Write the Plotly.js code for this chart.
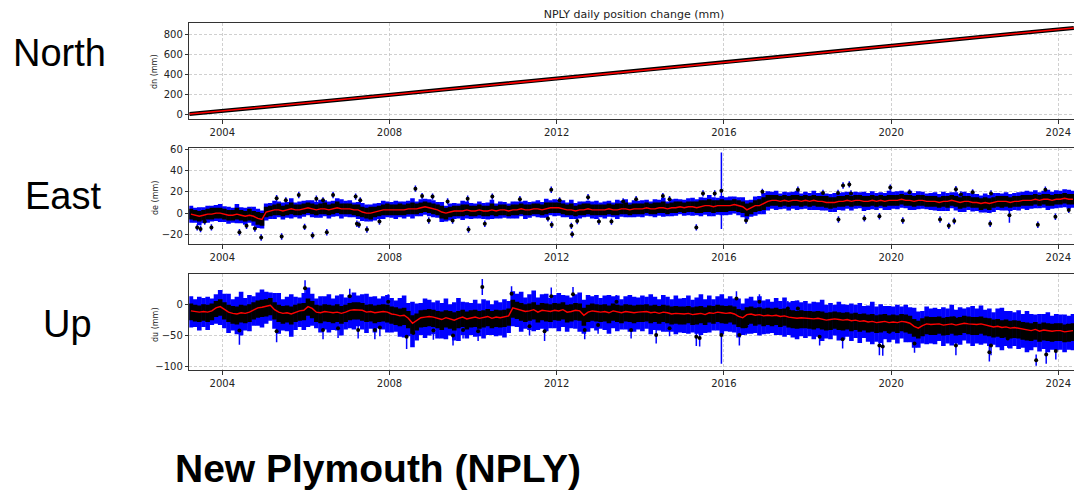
<!DOCTYPE html>
<html>
<head>
<meta charset="utf-8">
<script src="https://cdn.plot.ly/plotly-3.0.1.min.js"></script>
<style>
  html, body { margin: 0; padding: 0; background: #fff; }
  #chart { width: 1074px; height: 494px; }
</style>
</head>
<body>
<div id="chart"></div>
<script>
// ---------------- data (mm) ----------------
// North: near-linear motion, sampled yearly
const northT = [2003.21, 2004, 2005, 2006, 2007, 2008, 2009, 2010, 2011, 2012, 2013, 2014,
                2015, 2016, 2017, 2018, 2019, 2020, 2021, 2022, 2023, 2024, 2024.37];
const northV = [2, 36, 74, 113, 153, 194, 234, 274, 315, 355, 395, 436,
                477, 518, 559, 600, 642, 686, 727, 768, 809, 850, 864];

// East and Up are summarised in 0.1-year bins starting at 2003.25:
// running mean (red), upper/lower edge of the daily solutions in the bin,
// and the largest 1-sigma in the bin.
const binStart = 2003.25, binStep = 0.1;

const eastMid = [
  /*2003*/ -1,-2,-3,-2,-1,-1,0,0,
  /*2004*/ -1,-2,-2,-1,-2,-3,-2,-3,-5,-6,
  /*2005*/ 1,2,3,3,2,3,4,3,3,4,
  /*2006*/ 5,4,3,4,4,3,4,5,4,4,
  /*2007*/ 4,3,3,1,0,0,1,2,3,3,
  /*2008*/ 3,3,3,3,4,4,4,5,6,5,
  /*2009*/ 4,3,1,0,1,2,2,2,3,2,
  /*2010*/ 2,3,2,2,3,2,3,3,2,3,
  /*2011*/ 3,4,3,3,4,4,3,4,5,5,
  /*2012*/ 5,4,3,3,2,3,3,4,3,3,
  /*2013*/ 3,3,4,3,3,4,4,3,4,4,
  /*2014*/ 4,5,4,4,5,5,4,5,5,6,
  /*2015*/ 5,6,6,5,6,7,7,6,7,7,
  /*2016*/ 7,7,8,7,6,3,5,7,7,9,
  /*2017*/ 11,12,12,11,12,11,12,12,11,12,
  /*2018*/ 11,12,11,11,10,10,10,11,11,12,
  /*2019*/ 11,12,12,11,11,12,11,12,11,12,
  /*2020*/ 12,12,13,12,12,11,12,12,11,11,
  /*2021*/ 11,10,11,11,12,11,10,11,11,10,
  /*2022*/ 10,9,10,9,10,11,11,11,10,11,
  /*2023*/ 11,12,12,12,13,12,13,13,12,13,
  /*2024*/ 13,14,13,13
];
const eastHi = [
  /*2003*/ 4,3,2,3,4,5,5,5,
  /*2004*/ 4,3,3,5,3,2,4,2,1,0,
  /*2005*/ 6,7,8,9,7,8,10,8,8,9,
  /*2006*/ 10,9,8,9,10,8,9,11,9,9,
  /*2007*/ 9,8,8,6,5,6,6,7,8,9,
  /*2008*/ 8,8,9,8,9,10,9,10,11,10,
  /*2009*/ 9,8,7,5,6,7,7,8,8,7,
  /*2010*/ 7,8,7,7,9,7,8,8,7,8,
  /*2011*/ 8,9,8,8,9,9,8,10,10,10,
  /*2012*/ 10,9,8,9,7,8,9,9,8,8,
  /*2013*/ 8,8,9,8,9,9,10,8,9,9,
  /*2014*/ 9,10,9,10,10,11,9,10,11,11,
  /*2015*/ 10,11,11,11,12,12,13,12,12,13,
  /*2016*/ 12,12,13,12,11,9,10,12,13,15,
  /*2017*/ 17,17,17,16,17,16,17,17,16,17,
  /*2018*/ 16,17,16,16,16,15,15,16,16,17,
  /*2019*/ 16,17,17,16,16,17,16,17,16,17,
  /*2020*/ 17,17,18,17,17,16,17,17,16,16,
  /*2021*/ 16,15,16,16,17,16,15,16,16,15,
  /*2022*/ 15,14,15,14,15,16,16,16,15,16,
  /*2023*/ 16,17,17,17,18,17,18,18,17,18,
  /*2024*/ 18,19,18,18
];
const eastLo = [
  /*2003*/ -6,-7,-8,-7,-6,-6,-5,-5,
  /*2004*/ -6,-7,-7,-6,-7,-8,-7,-8,-11,-12,
  /*2005*/ -4,-3,-2,-2,-3,-2,-1,-2,-2,-1,
  /*2006*/ 0,-1,-2,-1,-1,-2,-1,0,-1,-1,
  /*2007*/ -1,-2,-3,-4,-5,-6,-4,-3,-2,-2,
  /*2008*/ -2,-2,-2,-2,-1,-1,-1,0,1,0,
  /*2009*/ -1,-2,-5,-6,-4,-3,-3,-3,-2,-3,
  /*2010*/ -3,-2,-3,-3,-2,-3,-2,-2,-3,-2,
  /*2011*/ -2,-1,-2,-2,-1,-1,-2,-1,0,0,
  /*2012*/ 0,-1,-2,-2,-3,-2,-2,-1,-2,-2,
  /*2013*/ -2,-2,-1,-2,-2,-1,-1,-2,-1,-1,
  /*2014*/ -1,0,-1,-1,0,0,-1,0,0,1,
  /*2015*/ 0,1,1,0,0,1,1,0,1,1,
  /*2016*/ 1,2,2,1,0,-3,-1,1,2,3,
  /*2017*/ 6,7,7,6,7,6,7,7,6,7,
  /*2018*/ 6,7,6,6,5,4,5,6,6,7,
  /*2019*/ 6,7,7,6,6,7,6,7,6,7,
  /*2020*/ 7,7,8,7,7,6,7,7,6,6,
  /*2021*/ 6,5,6,5,7,6,4,5,6,5,
  /*2022*/ 5,3,4,3,5,6,5,6,5,6,
  /*2023*/ 6,7,7,7,8,7,8,7,7,8,
  /*2024*/ 8,9,8,8
];
const eastSigma = [
  /*2003*/ 3,2,3.5,2.5,3,2,2.5,3.5,
  /*2004*/ 2.5,3,2,3.5,2.5,3,2,4,3,2.5,
  /*2005*/ 3,2.5,3.5,2,3,2.5,4,2,3,2.5,
  /*2006*/ 2,3,2.5,3.5,2,3,2.5,3,4,2.5,
  /*2007*/ 3,2,2.5,3.5,3,2,3,2.5,3.5,2,
  /*2008*/ 2.5,3.5,2,3,2.5,4,2,3,2.5,3,
  /*2009*/ 3,2.5,3.5,2,3,2.5,2,3.5,3,2.5,
  /*2010*/ 2,3,2.5,3,3.5,2,3,2.5,2,3,
  /*2011*/ 3,2,3.5,2.5,2,3,2.5,3.5,2,3,
  /*2012*/ 2.5,3,2,3.5,2.5,3,2,2.5,3,3.5,
  /*2013*/ 2,3,2.5,2,3.5,2.5,3,2,3,2.5,
  /*2014*/ 3,2.5,2,3,2.5,3.5,2,3,2.5,2,
  /*2015*/ 2.5,3,3.5,2,3,2.5,4,3,2.5,3,
  /*2016*/ 3,3.5,2.5,3,4,3,2.5,3.5,3,4,
  /*2017*/ 3.5,3,4,2.5,3,3.5,3,4,2.5,3,
  /*2018*/ 3,4,3,3.5,2.5,3,4,3,3.5,3,
  /*2019*/ 3.5,3,2.5,4,3,3.5,3,2.5,3,4,
  /*2020*/ 3,3.5,3,2.5,4,3,3.5,3,2.5,3,
  /*2021*/ 3.5,3,4,3,2.5,3.5,3,4,3,3.5,
  /*2022*/ 3,2.5,3.5,3,4,3,2.5,3.5,3,3,
  /*2023*/ 3.5,3,4,3,3.5,2.5,3,4,3,3.5,
  /*2024*/ 3,3.5,4,3
];

// isolated East solutions away from the main cloud
const eastOutT = [2003.40,2003.48,2003.58,2003.74,2004.41,2004.58,2004.78,2004.93,2005.30,2005.42,
  2005.52,2005.83,2005.97,2006.16,2006.25,2006.41,2006.50,2006.65,2007.19,2007.22,2007.27,2007.30,
  2007.46,2007.76,2008.62,2008.78,2008.94,2009.03,2009.39,2009.51,2009.87,2009.89,2010.28,2010.46,
  2011.12,2011.79,2011.87,2011.88,2012.07,2012.35,2012.37,2012.49,2012.75,2013.01,2013.31,2013.59,
  2013.90,2014.54,2014.70,2015.34,2015.50,2015.78,2015.94,2016.53,2016.92,2017.77,2018.37,2018.73,
  2018.74,2018.85,2019.00,2019.04,2019.36,2019.72,2019.98,2020.28,2020.44,2021.17,2021.38,2021.51,
  2021.55,2021.67,2021.95,2022.37,2022.39,2022.83,2023.51,2023.69,2023.93,2024.25];
const eastOutV = [-13.5,-15,-8,-13.5,-18,-12,-14.5,-23,14,-22,
  12,17,-13,-21,13.5,12,-18,17,15.5,-10,-11,12,
  -15.5,-8,23,16,-7,15.5,11,-7,13.5,-15.5,-10,15.5,
  13,-5,22,-11,12,-12,-20,-7.5,15,-8,-8,11,
  13,16,13,-13.5,18.5,18.5,21,-7,20,22,19,19,
  -6,26,27,18.5,-5,-3,24,-7,19.5,-6,-12,-7.5,
  22.5,17.5,19.5,-10,18.5,-2,-11,22,-3.5,3];
const eastOutE = [3,3,3,3,3,3,3,3,3,3,
  3,3,3,3,3,3,3,3,3,3,3,3,
  3,3,3,3,3,3,3,3,3,3,3,3,
  3,3,3,3,3,3,3,3,3,3,3,3,
  3,3,3,3,3,3,36,3,3,3,3,3,
  3,3,3,3,3,3,3,3,3,3,3,3,
  3,3,3,3,3,7,3,3,3,3];

const upMid = [
  /*2003*/ -10,-11,-12,-11,-12,-10,-5,-3,
  /*2004*/ -8,-12,-14,-15,-13,-14,-12,-8,-5,-4,
  /*2005*/ -3,-1,-8,-12,-14,-13,-15,-12,-10,-9,
  /*2006*/ -3,-6,-12,-13,-11,-12,-13,-12,-14,-12,
  /*2007*/ -9,-8,-8,-9,-12,-11,-13,-12,-11,-12,
  /*2008*/ -15,-16,-18,-17,-22,-30,-26,-21,-20,-19,
  /*2009*/ -20,-22,-24,-21,-23,-25,-22,-20,-23,-21,
  /*2010*/ -20,-22,-21,-19,-22,-20,-21,-20,-18,-5,
  /*2011*/ -7,-9,-11,-10,-8,-12,-9,-10,-11,-9,
  /*2012*/ -10,-8,-12,-11,-9,-10,-17,-12,-10,-11,
  /*2013*/ -12,-11,-13,-10,-12,-13,-11,-12,-13,-12,
  /*2014*/ -12,-11,-13,-12,-14,-12,-13,-15,-14,-15,
  /*2015*/ -15,-14,-16,-15,-14,-16,-13,-14,-12,-13,
  /*2016*/ -14,-13,-15,-19,-21,-16,-15,-17,-16,-18,
  /*2017*/ -17,-18,-17,-19,-18,-20,-21,-22,-21,-22,
  /*2018*/ -22,-23,-22,-23,-25,-24,-23,-24,-25,-24,
  /*2019*/ -26,-25,-27,-26,-28,-27,-29,-28,-27,-29,
  /*2020*/ -28,-29,-27,-28,-30,-35,-38,-34,-31,-32,
  /*2021*/ -32,-31,-33,-32,-31,-33,-32,-30,-31,-32,
  /*2022*/ -32,-31,-33,-34,-36,-35,-37,-36,-38,-37,
  /*2023*/ -38,-40,-41,-42,-40,-43,-41,-42,-43,-42,
  /*2024*/ -42,-44,-43,-42
];
const upHi = [
  /*2003*/ 2,0,-1,1,0,2,6,9,
  /*2004*/ 4,0,-2,-3,0,-1,1,4,7,8,
  /*2005*/ 9,11,4,0,-2,-1,-3,0,2,3,
  /*2006*/ 10,6,0,-1,1,0,-1,1,-2,0,
  /*2007*/ 3,4,4,3,0,1,-1,0,1,0,
  /*2008*/ -3,-4,-6,-5,-10,-17,-14,-9,-8,-7,
  /*2009*/ -8,-10,-11,-9,-10,-12,-10,-8,-11,-9,
  /*2010*/ -8,-10,-9,-7,-10,-8,-9,-8,-6,8,
  /*2011*/ 5,3,1,2,4,0,3,2,1,3,
  /*2012*/ 2,4,0,1,3,2,-5,0,2,1,
  /*2013*/ 0,1,-1,2,0,-1,1,0,-1,0,
  /*2014*/ 0,1,-1,0,-2,0,-1,-3,-2,-3,
  /*2015*/ -3,-2,-4,-3,-2,-4,-1,-2,0,-1,
  /*2016*/ -2,-1,-3,-7,-9,-4,-3,-5,-4,-6,
  /*2017*/ -5,-6,-5,-7,-6,-8,-9,-10,-9,-10,
  /*2018*/ -10,-11,-10,-11,-13,-12,-11,-12,-13,-12,
  /*2019*/ -14,-13,-15,-14,-16,-15,-17,-16,-15,-17,
  /*2020*/ -16,-17,-15,-16,-18,-23,-26,-22,-19,-20,
  /*2021*/ -20,-19,-21,-20,-19,-21,-20,-18,-19,-20,
  /*2022*/ -20,-19,-21,-22,-24,-23,-25,-24,-26,-25,
  /*2023*/ -26,-28,-29,-30,-28,-31,-29,-30,-31,-30,
  /*2024*/ -30,-32,-31,-30
];
const upLo = [
  /*2003*/ -25,-27,-28,-26,-28,-25,-20,-18,
  /*2004*/ -24,-28,-31,-32,-29,-30,-28,-24,-21,-20,
  /*2005*/ -19,-17,-24,-28,-31,-29,-32,-28,-26,-25,
  /*2006*/ -18,-22,-28,-30,-27,-28,-30,-28,-31,-28,
  /*2007*/ -25,-24,-24,-26,-28,-27,-30,-28,-27,-29,
  /*2008*/ -31,-33,-35,-33,-38,-47,-42,-37,-36,-35,
  /*2009*/ -36,-38,-41,-37,-39,-42,-38,-36,-40,-37,
  /*2010*/ -36,-39,-37,-35,-38,-36,-37,-36,-34,-21,
  /*2011*/ -23,-26,-28,-26,-24,-29,-25,-27,-28,-25,
  /*2012*/ -26,-24,-29,-27,-25,-26,-34,-28,-26,-27,
  /*2013*/ -28,-27,-30,-26,-28,-30,-27,-28,-30,-28,
  /*2014*/ -28,-27,-30,-28,-31,-28,-30,-32,-31,-32,
  /*2015*/ -32,-30,-33,-32,-30,-33,-29,-31,-28,-30,
  /*2016*/ -31,-29,-32,-36,-38,-33,-31,-34,-32,-35,
  /*2017*/ -33,-35,-33,-36,-34,-37,-38,-39,-38,-38,
  /*2018*/ -39,-40,-38,-40,-42,-41,-39,-41,-42,-40,
  /*2019*/ -43,-41,-44,-42,-45,-44,-46,-45,-43,-46,
  /*2020*/ -44,-46,-43,-45,-47,-52,-55,-51,-48,-49,
  /*2021*/ -49,-47,-50,-49,-47,-50,-49,-46,-48,-49,
  /*2022*/ -49,-47,-50,-51,-53,-52,-54,-53,-55,-54,
  /*2023*/ -55,-57,-58,-59,-57,-60,-58,-59,-60,-59,
  /*2024*/ -59,-61,-60,-59
];
const upSigma = [
  /*2003*/ 12,9,14,10,13,8,11,15,
  /*2004*/ 14,18,11,16,21,12,15,10,13,17,
  /*2005*/ 12,9,15,19,11,14,20,13,10,16,
  /*2006*/ 18,12,10,15,13,17,11,14,19,12,
  /*2007*/ 13,16,11,14,18,12,15,10,13,16,
  /*2008*/ 14,11,17,20,13,22,16,12,18,15,
  /*2009*/ 12,17,14,19,11,16,21,13,15,12,
  /*2010*/ 16,12,18,14,11,15,13,17,12,14,
  /*2011*/ 13,18,11,15,19,12,14,16,10,13,
  /*2012*/ 17,12,15,11,14,18,13,16,12,15,
  /*2013*/ 11,14,17,12,15,10,13,16,14,12,
  /*2014*/ 15,12,18,13,11,16,14,12,17,13,
  /*2015*/ 14,17,12,15,19,13,16,11,14,18,
  /*2016*/ 12,15,13,17,11,14,16,12,18,13,
  /*2017*/ 14,11,16,13,18,12,15,17,13,16,
  /*2018*/ 12,16,14,19,13,15,11,17,14,12,
  /*2019*/ 16,13,18,12,15,20,14,17,13,15,
  /*2020*/ 13,17,12,16,14,18,15,12,16,14,
  /*2021*/ 15,12,17,14,19,13,16,12,15,18,
  /*2022*/ 14,18,13,16,12,17,20,14,16,13,
  /*2023*/ 17,13,19,15,12,16,14,18,13,15,
  /*2024*/ 14,16,13,15
];

// isolated Up solutions away from the main cloud
const upOutT = [2004.41,2005.30,2005.98,2006.41,2006.77,2007.05,2007.25,2007.65,2007.77,2007.97,
  2008.41,2008.57,2009.05,2009.52,2009.76,2010.12,2010.22,2010.92,2011.35,2011.71,2011.87,2012.39,
  2012.67,2012.99,2013.43,2013.78,2014.38,2014.70,2015.34,2015.42,2015.94,2016.30,2016.37,2016.53,
  2016.85,2017.53,2017.77,2018.29,2018.84,2019.72,2019.80,2019.96,2020.56,2021.51,2021.55,2022.35,
  2022.39,2022.79,2023.19,2023.47,2023.71,2023.94,2024.22];
const upOutV = [-42,-43,27,-41,-38,14,-41,-41,-37,5,
  -52,-46,-42,-50,-41,-43,29,18,-35,-43,14,17,
  -41,-33,5,-41,-49,-38,-52,-54,-49,10,-49,-35,
  5,-6,-6,-52,-56,-66,-68,-44,-63,-22,-66,-77,
  -66,-55,-39,-90,-81,-75,-34];
const upOutE = [23,18,13,15,16,12,14,15,14,12,
  20,18,15,16,14,16,13,12,15,16,14,12,
  15,14,11,14,14,13,15,14,47,12,17,14,
  12,12,13,14,15,16,15,14,15,14,16,15,
  16,15,14,9,15,14,14];

const yearTicks = [2004, 2008, 2012, 2016, 2020, 2024];

// ---------------- traces ----------------
const BLUE = '#0000ff', BLACK = '#000000', RED = '#ff0000';

function binTimes(n) {
  const t = [];
  for (let i = 0; i < n; i++) t.push(Math.round((binStart + binStep * i) * 100) / 100);
  return t;
}

// one subplot of binned daily solutions: sigma fringe, solution cloud, outliers, running mean
function componentTraces(mid, hi, lo, sigma, outT, outV, outE, xa, ya) {
  const t = binTimes(mid.length);
  const base = { type: 'scatter', mode: 'markers', x: t, y: mid, xaxis: xa, yaxis: ya,
                 hoverinfo: 'skip', showlegend: false };
  return [
    Object.assign({}, base, {
      marker: { size: 1, color: BLUE },
      error_y: { type: 'data', symmetric: false,
                 array: hi.map((h, i) => h - mid[i] + sigma[i]),
                 arrayminus: lo.map((l, i) => mid[i] - l + sigma[i]),
                 color: BLUE, thickness: 4.6, width: 0 }
    }),
    { type: 'scatter', mode: 'markers', x: outT, y: outV, xaxis: xa, yaxis: ya,
      hoverinfo: 'skip', showlegend: false,
      marker: { size: 4, color: BLACK },
      error_y: { type: 'data', array: outE, color: BLUE, thickness: 1.5, width: 0 } },
    Object.assign({}, base, {
      marker: { size: 1, color: BLACK },
      error_y: { type: 'data', symmetric: false,
                 array: hi.map((h, i) => h - mid[i]),
                 arrayminus: lo.map((l, i) => mid[i] - l),
                 color: BLACK, thickness: 4.6, width: 0 }
    }),
    { type: 'scatter', mode: 'lines', x: t, y: mid, xaxis: xa, yaxis: ya,
      hoverinfo: 'skip', showlegend: false,
      line: { color: RED, width: 1.4 } }
  ];
}

const traces = [
  { type: 'scatter', mode: 'lines', x: northT, y: northV, xaxis: 'x', yaxis: 'y',
    showlegend: false, hoverinfo: 'skip', line: { color: BLACK, width: 4 } },
  { type: 'scatter', mode: 'lines', x: northT, y: northV, xaxis: 'x', yaxis: 'y',
    showlegend: false, hoverinfo: 'skip', line: { color: RED, width: 1.5 } }
].concat(
  componentTraces(eastMid, eastHi, eastLo, eastSigma, eastOutT, eastOutV, eastOutE, 'x2', 'y2'),
  componentTraces(upMid, upHi, upLo, upSigma, upOutT, upOutV, upOutE, 'x3', 'y3')
);

// ---------------- layout ----------------
const W = 1074, H = 494;
const px = v => v / W;
const py = v => 1 - v / H;

const tickFont = { family: 'DejaVu Sans, sans-serif', size: 10, color: '#222' };

function xAxis(anchor) {
  return {
    domain: [px(189.3), 1], range: [2003.211, 2024.375], anchor: anchor,
    tickmode: 'array', tickvals: yearTicks, ticktext: yearTicks.map(String),
    ticks: 'outside', ticklen: 3.5, tickwidth: 1, tickcolor: '#333',
    showline: true, linecolor: '#333', linewidth: 1, mirror: true,
    showgrid: true, gridcolor: '#c4c4c4', gridwidth: 0.8, griddash: '3px,2px',
    zeroline: false, tickfont: tickFont, fixedrange: true
  };
}
function yAxis(anchor, top, bottom, range, vals) {
  return {
    domain: [py(bottom), py(top)], range: range, anchor: anchor,
    tickmode: 'array', tickvals: vals,
    ticks: 'outside', ticklen: 3.5, tickwidth: 1, tickcolor: '#333',
    showline: true, linecolor: '#333', linewidth: 1, mirror: false,
    showgrid: true, gridcolor: '#c4c4c4', gridwidth: 0.8, griddash: '3px,2px',
    zeroline: false, tickfont: tickFont, fixedrange: true
  };
}

const labelFont = { family: 'Liberation Sans, Arial, sans-serif', size: 38, color: '#000' };
const ylabFont = { family: 'DejaVu Sans, sans-serif', size: 8, color: '#222' };

const layout = {
  width: W, height: H,
  margin: { l: 0, r: 0, t: 0, b: 0, pad: 0 },
  paper_bgcolor: '#fff', plot_bgcolor: '#fff',
  showlegend: false,
  title: { text: 'NPLY daily position change (mm)',
           font: { family: 'DejaVu Sans, sans-serif', size: 11, color: '#222' },
           x: px(634), xanchor: 'center', y: py(14.5), yanchor: 'middle' },
  xaxis: xAxis('y'),
  yaxis: yAxis('x', 23, 119, [-47, 913], [0, 200, 400, 600, 800]),
  xaxis2: xAxis('y2'),
  yaxis2: yAxis('x2', 148.3, 244.3, [-29.4, 61], [-20, 0, 20, 40, 60]),
  xaxis3: xAxis('y3'),
  yaxis3: yAxis('x3', 274, 370, [-106, 50], [-100, -50, 0]),
  annotations: [
    { text: 'North', x: px(60), y: py(52.5), xref: 'paper', yref: 'paper',
      xanchor: 'center', yanchor: 'middle', showarrow: false, font: labelFont },
    { text: 'East', x: px(63), y: py(196), xref: 'paper', yref: 'paper',
      xanchor: 'center', yanchor: 'middle', showarrow: false, font: labelFont },
    { text: 'Up', x: px(67), y: py(324), xref: 'paper', yref: 'paper',
      xanchor: 'center', yanchor: 'middle', showarrow: false, font: labelFont },
    { text: 'dn (mm)', x: px(155), y: py(71), xref: 'paper', yref: 'paper', textangle: -90,
      xanchor: 'center', yanchor: 'middle', showarrow: false, font: ylabFont },
    { text: 'de (mm)', x: px(155), y: py(198), xref: 'paper', yref: 'paper', textangle: -90,
      xanchor: 'center', yanchor: 'middle', showarrow: false, font: ylabFont },
    { text: 'du (mm)', x: px(155), y: py(324), xref: 'paper', yref: 'paper', textangle: -90,
      xanchor: 'center', yanchor: 'middle', showarrow: false, font: ylabFont },
    { text: '<b>New Plymouth (NPLY)</b>', x: px(377.5), y: py(468), xref: 'paper', yref: 'paper',
      xanchor: 'center', yanchor: 'middle', showarrow: false,
      font: { family: 'Liberation Sans, Arial, sans-serif', size: 39, color: '#000' } }
  ]
};

Plotly.newPlot('chart', traces, layout, { staticPlot: true, displayModeBar: false });
</script>
</body>
</html>
